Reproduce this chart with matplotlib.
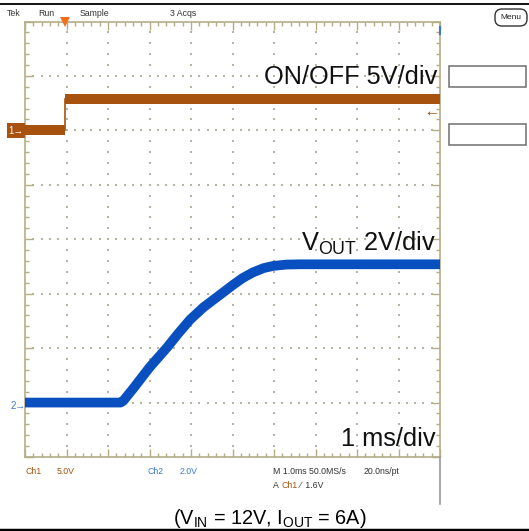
import matplotlib
matplotlib.use("Agg")
import matplotlib.pyplot as plt
import numpy as np
from matplotlib.patches import Rectangle, FancyBboxPatch

plt.rcParams["font.family"] = ["Liberation Sans", "DejaVu Sans"]
plt.rcParams["mathtext.fontset"] = "custom"
plt.rcParams["mathtext.rm"] = "Liberation Sans"
plt.rcParams["mathtext.it"] = "Liberation Sans:italic"

# ─── Data (time in ms, volts) ────────────────────────────────────────────────
ch1_time = [0.0, 0.96, 0.96, 10.0]
ch1_volt = [0.0, 0.0, 2.85, 2.85]
ch2_time = [0.0, 2.30, 2.36, 2.60, 3.00, 3.42, 3.70, 3.98, 4.30, 4.63,
            5.01, 5.25, 5.49, 5.75, 5.98, 6.30, 6.63, 10.0]
ch2_volt = [0.0, 0.0, 0.05, 0.50, 1.29, 2.02, 2.55, 3.05, 3.50, 3.88,
            4.32, 4.58, 4.78, 4.94, 5.02, 5.07, 5.08, 5.08]

CH1_SCALE, CH1_POS = 5.0, 2.0     # V/div, ground position (div)
CH2_SCALE, CH2_POS = 2.0, -3.0
TRIG_TIME = 0.96
TRIG_LEVEL = 1.6

BROWN = "#a8520f"
BLUE = "#0a4fbf"
LBLUE = "#3a78c8"
TAN = "#b5ad87"
DOT = "#b9b5a0"
W, H = 529, 531

fig = plt.figure(figsize=(W / 100, H / 100), dpi=100)
fig.patch.set_facecolor("white")

# graticule axes
gl, gr, gt, gb = 25, 440, 21.5, 457
ax = fig.add_axes([gl / W, 1 - gb / H, (gr - gl) / W, (gb - gt) / H])
ax.set_xlim(0, 10)
ax.set_ylim(-4, 4)
for s in ax.spines.values():
    s.set_color(TAN)
    s.set_linewidth(1.2)
ax.set_xticks(np.arange(0, 11, 1))
ax.set_yticks(np.arange(-4, 5, 1))
ax.set_xticks(np.arange(0, 10.01, 0.2), minor=True)
ax.set_yticks(np.arange(-4, 4.01, 0.2), minor=True)
ax.tick_params(which="both", direction="in", top=True, right=True,
               labelbottom=False, labelleft=False, color=TAN, width=1)
ax.tick_params(which="major", length=5.5)
ax.tick_params(which="minor", length=3)

# dotted graticule
minor_x = np.arange(0.2, 10, 0.2)
minor_y = np.arange(-3.8, 4, 0.2)
for gx in range(1, 10):
    ax.plot(np.full_like(minor_y, gx), minor_y, ls="none", marker="s",
            ms=1.5, mew=0, color=DOT, zorder=1)
for gy in range(-3, 4):
    ax.plot(minor_x, np.full_like(minor_x, gy), ls="none", marker="s",
            ms=1.5, mew=0, color=DOT, zorder=1)

# ch1 trace (ON/OFF)
t1 = np.array(ch1_time)
y1 = CH1_POS + np.array(ch1_volt) / CH1_SCALE
ax.plot(t1[:2], y1[:2], color=BROWN, lw=7.2, solid_capstyle="butt", zorder=3)
ax.plot(t1[2:], y1[2:], color=BROWN, lw=7.2, solid_capstyle="butt", zorder=3)
ax.plot(t1[1:3], y1[1:3], color=BROWN, lw=1.2, zorder=3)

# ch2 trace (VOUT)
y2 = CH2_POS + np.array(ch2_volt) / CH2_SCALE
ax.plot(ch2_time, y2, color=BLUE, lw=7, solid_capstyle="butt",
        solid_joinstyle="round", zorder=4)

# trigger position marker
ax.plot([TRIG_TIME], [4.0], marker="v", ms=7, color="#f07020", mew=0,
        clip_on=False, zorder=6)
ax.plot([9.8], [CH1_POS + TRIG_LEVEL / CH1_SCALE], marker=r"$\leftarrow$",
        ms=7, color=BROWN, mew=0, zorder=6)

# ─── overlay in pixel coordinates ────────────────────────────────────────────
ov = fig.add_axes([0, 0, 1, 1])
ov.set_xlim(0, W)
ov.set_ylim(H, 0)
ov.axis("off")
ov.patch.set_alpha(0)

ov.plot([0, W], [4, 4], color="black", lw=1.3)
ov.plot([0, W], [530, 530], color="black", lw=2.5)
ov.plot([gr, gr], [gb, 504], color="#9a9a9a", lw=1.2)
ov.plot([gr, gr], [27, 34], color=LBLUE, lw=1.5)

hdr = dict(fontsize=6.3, color="#333333", va="center")
ov.text(7, 13, "Tek", **hdr)
ov.text(38, 13, "Run", **hdr)
ov.text(80, 13, "Sample", **hdr)
ov.text(170, 13, "3 Acqs", **hdr)

# channel markers
ov.add_patch(Rectangle((7, 123), 18, 15, facecolor=BROWN, edgecolor="none"))
ov.text(16, 131, "1\u2192", fontsize=7, color="white", ha="center", va="center")
ov.text(18, 406, "2\u2192", fontsize=7, color=LBLUE, ha="center", va="center")

# in-screen labels
lab = dict(fontsize=18.3, color="#111111", ha="right", va="center")
ov.text(437, 77, "ON/OFF 5V/div", **lab)
ov.text(436, 243, r"V$_{\rm OUT}$ 2V/div", **lab)
ov.text(436, 439, "1 ms/div", **lab)

# bottom readout
bt = dict(fontsize=6.3, va="center")
ov.text(25, 471, "Ch1", color=BROWN, **bt)
ov.text(57, 471, "5.0V", color=BROWN, **bt)
ov.text(147, 471, "Ch2", color=LBLUE, **bt)
ov.text(180, 471, "2.0V", color=LBLUE, **bt)
ov.text(273, 471, "M 1.0ms 50.0MS/s", color="#333333", **bt)
ov.text(364, 471, "20.0ns/pt", color="#333333", **bt)
ov.text(273, 485, "A", color="#333333", **bt)
ov.text(282, 485, "Ch1", color=BROWN, **bt)
ov.text(300, 485, "\u2215  1.6V", color="#333333", **bt)

# caption
ov.text(270, 519, r"(V$_{\rm IN}$ = 12V, I$_{\rm OUT}$ = 6A)", fontsize=14.3,
        color="black", ha="center", va="center")

# right-hand menu
ov.add_patch(FancyBboxPatch((495, 9), 32, 17,
                            boxstyle="round,pad=0,rounding_size=7",
                            facecolor="white", edgecolor="#333333", lw=1))
ov.text(511, 17.5, "Menu", fontsize=6, color="#222222", ha="center", va="center")
ov.add_patch(Rectangle((449, 66), 77, 21, facecolor="white",
                       edgecolor="#7a7a7a", lw=1.2))
ov.add_patch(Rectangle((449, 124), 77, 21, facecolor="white",
                       edgecolor="#7a7a7a", lw=1.2))

fig.savefig("out.png", dpi=100, facecolor="white")
